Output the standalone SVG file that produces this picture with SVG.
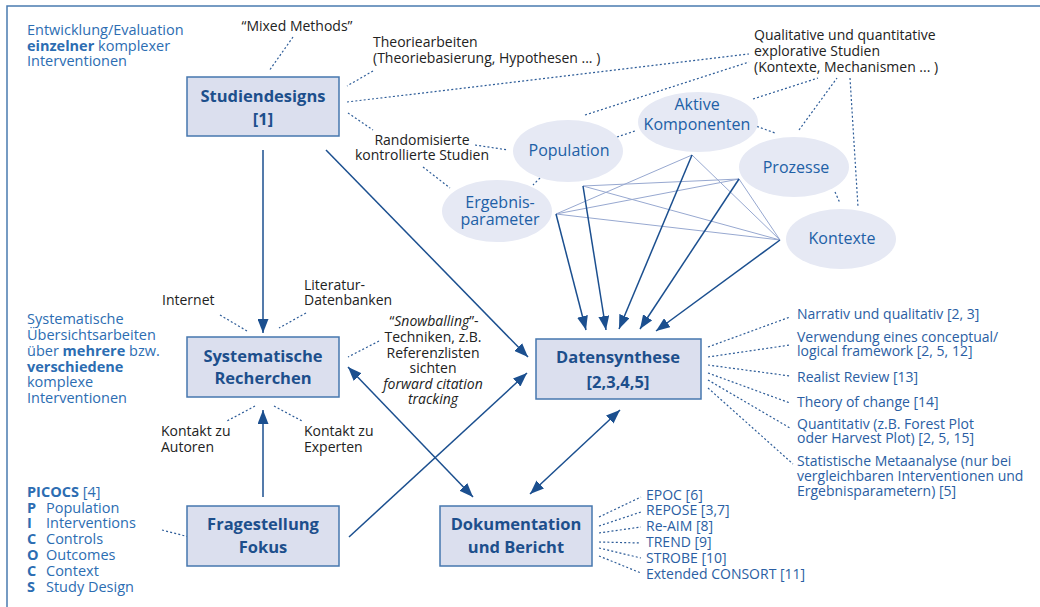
<svg xmlns="http://www.w3.org/2000/svg" width="1040" height="607" viewBox="0 0 1040 607">
<style>
.box{fill:#dbdfee;stroke:#4677ae;stroke-width:1.5}
.ell{fill:#e6e9f4}
.bt{font-family:"Open Sans",sans-serif;font-weight:bold;font-size:16.5px;fill:#1d4f8c;text-anchor:middle}
.et{font-family:"Open Sans",sans-serif;font-size:16px;fill:#2160a6;text-anchor:middle}
.lbl{font-family:"Open Sans",sans-serif;font-size:14px;fill:#222}
.mid{text-anchor:middle}
.blue{font-family:"Open Sans",sans-serif;font-size:14.5px;fill:#2c6db2}
.lst{font-family:"Open Sans",sans-serif;font-size:14px;fill:#2a5ea3}
.b{font-weight:bold}
.arr{stroke:#1b4f8f;stroke-width:1.5;fill:none}
.net{stroke:#97a8d0;stroke-width:1;fill:none}
.dot{stroke:#2d5c98;stroke-width:1.2;stroke-dasharray:2 2.2;fill:none}
</style>
<defs>
<marker id="ah" markerUnits="userSpaceOnUse" markerWidth="14" markerHeight="11" refX="14" refY="5.5" orient="auto-start-reverse" viewBox="0 0 14 11">
<path d="M0,0 L14,5.5 L0,11 z" fill="#1b4f8f"/>
</marker>
</defs>
<rect width="1040" height="607" fill="#fff"/>
<path d="M7,615 V6 H1045" fill="none" stroke="#4a7bb0" stroke-width="1.5"/>

<g id="connectors">
<line class="arr" x1="263" y1="150" x2="263" y2="333" marker-end="url(#ah)"/>
<line class="arr" x1="326" y1="150" x2="528" y2="357" marker-end="url(#ah)"/>
<line class="arr" x1="263" y1="497" x2="263" y2="410" marker-end="url(#ah)"/>
<line class="arr" x1="349" y1="537" x2="527" y2="373" marker-end="url(#ah)"/>
<line class="arr" x1="348" y1="367" x2="473" y2="497" marker-start="url(#ah)" marker-end="url(#ah)"/>
<line class="arr" x1="620" y1="410" x2="530" y2="494" marker-start="url(#ah)" marker-end="url(#ah)"/>
<g id="network">
<line class="net" x1="692" y1="155" x2="556" y2="214"/>
<line class="net" x1="692" y1="155" x2="780" y2="240"/>
<line class="net" x1="583" y1="186" x2="739" y2="179"/>
<line class="net" x1="583" y1="186" x2="780" y2="240"/>
<line class="net" x1="556" y1="214" x2="739" y2="179"/>
<line class="net" x1="556" y1="214" x2="780" y2="240"/>
<line class="net" x1="739" y1="179" x2="780" y2="240"/>
</g>
<line class="arr" x1="556" y1="214" x2="586" y2="330" marker-end="url(#ah)"/>
<line class="arr" x1="583" y1="186" x2="606" y2="330" marker-end="url(#ah)"/>
<line class="arr" x1="692" y1="155" x2="619" y2="329" marker-end="url(#ah)"/>
<line class="arr" x1="739" y1="179" x2="640" y2="329" marker-end="url(#ah)"/>
<line class="arr" x1="780" y1="240" x2="656" y2="331" marker-end="url(#ah)"/>
<g id="dotted">
<line class="dot" x1="293" y1="37" x2="269" y2="71"/>
<line class="dot" x1="373" y1="71" x2="347" y2="86"/>
<line class="dot" x1="347" y1="102" x2="749" y2="54"/>
<line class="dot" x1="585" y1="115" x2="749" y2="62"/>
<line class="dot" x1="753" y1="99" x2="818" y2="78"/>
<line class="dot" x1="799" y1="130" x2="837" y2="78"/>
<line class="dot" x1="850" y1="78" x2="858" y2="207"/>
<line class="dot" x1="617" y1="137" x2="635" y2="131"/>
<line class="dot" x1="753" y1="125" x2="775" y2="133"/>
<line class="dot" x1="348" y1="113" x2="373" y2="130"/>
<line class="dot" x1="475" y1="145" x2="508" y2="150"/>
<line class="dot" x1="423" y1="167" x2="450" y2="188"/>
<line class="dot" x1="540" y1="178" x2="533" y2="185"/>
<line class="dot" x1="835" y1="192" x2="840" y2="203"/>
<line class="dot" x1="220" y1="315" x2="247" y2="331"/>
<line class="dot" x1="306" y1="313" x2="279" y2="328"/>
<line class="dot" x1="379" y1="341" x2="348" y2="357"/>
<line class="dot" x1="255" y1="406" x2="227" y2="421"/>
<line class="dot" x1="274" y1="406" x2="302" y2="421"/>
<line class="dot" x1="162" y1="530" x2="197" y2="539"/>
<line class="dot" x1="708" y1="347" x2="790" y2="317"/>
<line class="dot" x1="708" y1="357" x2="790" y2="345"/>
<line class="dot" x1="708" y1="365" x2="790" y2="376"/>
<line class="dot" x1="708" y1="373" x2="790" y2="403"/>
<line class="dot" x1="708" y1="380" x2="790" y2="428"/>
<line class="dot" x1="708" y1="388" x2="793" y2="464"/>
<line class="dot" x1="599" y1="517" x2="641" y2="497"/>
<line class="dot" x1="599" y1="526" x2="641" y2="512"/>
<line class="dot" x1="599" y1="533" x2="641" y2="527"/>
<line class="dot" x1="599" y1="542" x2="641" y2="543"/>
<line class="dot" x1="599" y1="548" x2="641" y2="558"/>
<line class="dot" x1="599" y1="556" x2="641" y2="573"/>
</g>
</g>

<g id="studiendesigns">
<rect class="box" x="187" y="77" width="152" height="59"/>
<text class="bt" x="263" y="102">Studiendesigns</text>
<text class="bt" x="263" y="125">[1]</text>
</g>
<g id="recherchen">
<rect class="box" x="187" y="337" width="152" height="60"/>
<text class="bt" x="263" y="362">Systematische</text>
<text class="bt" x="263" y="384">Recherchen</text>
</g>
<g id="fragestellung">
<rect class="box" x="187" y="506" width="152" height="60"/>
<text class="bt" x="263" y="530">Fragestellung</text>
<text class="bt" x="263" y="553">Fokus</text>
</g>
<g id="dokumentation">
<rect class="box" x="440" y="506" width="152" height="60"/>
<text class="bt" x="516" y="530">Dokumentation</text>
<text class="bt" x="516" y="553">und Bericht</text>
</g>
<g id="datensynthese">
<rect class="box" x="536" y="339" width="165" height="60"/>
<text class="bt" x="618" y="363">Datensynthese</text>
<text class="bt" x="618" y="388">[2,3,4,5]</text>
</g>

<g id="population"><ellipse class="ell" cx="568" cy="151" rx="55" ry="31"/><text class="et" x="569" y="156">Population</text></g>
<g id="aktive"><ellipse class="ell" cx="698" cy="122" rx="60" ry="30"/><text class="et" x="697" y="110">Aktive</text><text class="et" x="697" y="130">Komponenten</text></g>
<g id="prozesse"><ellipse class="ell" cx="794" cy="167" rx="55" ry="30"/><text class="et" x="796" y="173">Prozesse</text></g>
<g id="ergebnis"><ellipse class="ell" cx="497" cy="211" rx="55" ry="31"/><text class="et" x="500" y="208">Ergebnis-</text><text class="et" x="500" y="225">parameter</text></g>
<g id="kontexte"><ellipse class="ell" cx="841" cy="239" rx="55" ry="30"/><text class="et" x="842" y="244">Kontexte</text></g>

<g id="labels">
<text class="blue" x="27" y="35">Entwicklung/Evaluation</text>
<text class="blue" x="27" y="51"><tspan class="b">einzelner</tspan> komplexer</text>
<text class="blue" x="27" y="66">Interventionen</text>

<text class="lbl mid" x="297" y="31">“Mixed Methods”</text>
<text class="lbl" x="373" y="47">Theoriearbeiten</text>
<text class="lbl" x="373" y="63">(Theoriebasierung, Hypothesen ... )</text>
<text class="lbl" x="754" y="40">Qualitative und quantitative</text>
<text class="lbl" x="754" y="56">explorative Studien</text>
<text class="lbl" x="754" y="72">(Kontexte, Mechanismen ... )</text>
<text class="lbl mid" x="422" y="145">Randomisierte</text>
<text class="lbl mid" x="422" y="160">kontrollierte Studien</text>

<text class="lbl" x="162" y="305">Internet</text>
<text class="lbl" x="304" y="290">Literatur-</text>
<text class="lbl" x="304" y="305">Datenbanken</text>
<text class="lbl mid" x="434" y="326">“<tspan font-style="italic">Snowballing</tspan>”-</text>
<text class="lbl mid" x="433" y="342">Techniken, z.B.</text>
<text class="lbl mid" x="433" y="358">Referenzlisten</text>
<text class="lbl mid" x="433" y="373">sichten</text>
<text class="lbl mid" x="433" y="389" font-style="italic">forward citation</text>
<text class="lbl mid" x="433" y="404" font-style="italic">tracking</text>

<text class="blue" x="27" y="324">Systematische</text>
<text class="blue" x="27" y="340">Übersichtsarbeiten</text>
<text class="blue" x="27" y="356">über <tspan class="b">mehrere</tspan> bzw.</text>
<text class="blue" x="27" y="372" font-weight="bold">verschiedene</text>
<text class="blue" x="27" y="387">komplexe</text>
<text class="blue" x="27" y="403">Interventionen</text>

<text class="lbl" x="161" y="436">Kontakt zu</text>
<text class="lbl" x="161" y="452">Autoren</text>
<text class="lbl" x="304" y="436">Kontakt zu</text>
<text class="lbl" x="304" y="452">Experten</text>

<text class="blue" x="27" y="497"><tspan class="b">PICOCS</tspan> [4]</text>
<text class="blue" x="27" y="513"><tspan class="b">P</tspan><tspan x="46">Population</tspan></text>
<text class="blue" x="27" y="528"><tspan class="b">I</tspan><tspan x="46">Interventions</tspan></text>
<text class="blue" x="27" y="544"><tspan class="b">C</tspan><tspan x="46">Controls</tspan></text>
<text class="blue" x="27" y="560"><tspan class="b">O</tspan><tspan x="46">Outcomes</tspan></text>
<text class="blue" x="27" y="576"><tspan class="b">C</tspan><tspan x="46">Context</tspan></text>
<text class="blue" x="27" y="592"><tspan class="b">S</tspan><tspan x="46">Study Design</tspan></text>

<text class="lst" x="797" y="319">Narrativ und qualitativ [2, 3]</text>
<text class="lst" x="797" y="342">Verwendung eines conceptual/</text>
<text class="lst" x="797" y="356">logical framework [2, 5, 12]</text>
<text class="lst" x="797" y="382">Realist Review [13]</text>
<text class="lst" x="797" y="407">Theory of change [14]</text>
<text class="lst" x="797" y="429">Quantitativ (z.B. Forest Plot</text>
<text class="lst" x="797" y="443">oder Harvest Plot) [2, 5, 15]</text>
<text class="lst" x="797" y="466">Statistische Metaanalyse (nur bei</text>
<text class="lst" x="797" y="481">vergleichbaren Interventionen und</text>
<text class="lst" x="797" y="496">Ergebnisparametern) [5]</text>

<text class="lst" x="646" y="500">EPOC [6]</text>
<text class="lst" x="646" y="515">REPOSE [3,7]</text>
<text class="lst" x="646" y="531">Re-AIM [8]</text>
<text class="lst" x="646" y="547">TREND [9]</text>
<text class="lst" x="646" y="563">STROBE [10]</text>
<text class="lst" x="646" y="579">Extended CONSORT [11]</text>
</g>
</svg>
